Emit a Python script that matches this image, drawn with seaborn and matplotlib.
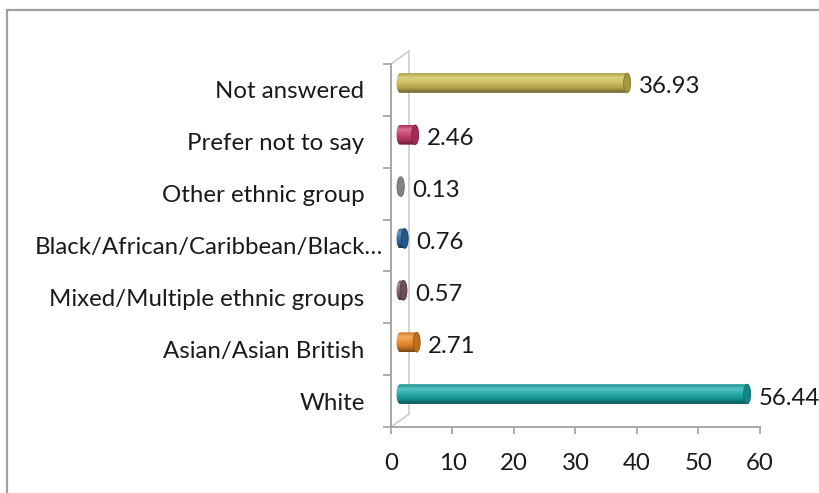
import numpy as np
import pandas as pd
import matplotlib
matplotlib.use("Agg")
import matplotlib.pyplot as plt
import seaborn as sns
from matplotlib import transforms
from matplotlib.patches import Ellipse, PathPatch, Rectangle
from matplotlib.path import Path
from matplotlib.lines import Line2D
from matplotlib.colors import LinearSegmentedColormap, to_rgb

# Survey responses by ethnic group (percent)
categories = [
    "Not answered",
    "Prefer not to say",
    "Other ethnic group",
    "Black/African/Caribbean/Black\u2026",
    "Mixed/Multiple ethnic groups",
    "Asian/Asian British",
    "White",
]
values = [36.93, 2.46, 0.13, 0.76, 0.57, 2.71, 56.44]
bar_colors = ["#CDBE52", "#C8386A", "#A4A4A4", "#2F6CA8", "#85636F", "#EE8A26", "#17A8A8"]
x_ticks = [0, 10, 20, 30, 40, 50, 60]

df = pd.DataFrame({"group": categories, "pct": values})

sns.set_theme(style="white")
plt.rcParams["font.family"] = ["Lato", "DejaVu Sans"]

W, H, DPI = 820, 493, 100
FS = 17.3
fig = plt.figure(figsize=(W / DPI, H / DPI), dpi=DPI)
fig.patch.set_facecolor("white")

# chart frame
fig.add_artist(Rectangle((7 / W, -0.1), 1.2, 1.1 - 10 / H, transform=fig.transFigure,
                         fill=False, edgecolor="#A0A0A0", lw=1.6))

ax = fig.add_axes([391 / W, 1 - 427 / H, (760 - 391) / W, (427 - 64) / H])
sns.barplot(data=df, x="pct", y="group", hue="group", palette=bar_colors,
            orient="h", width=0.38, saturation=1, legend=False, ax=ax)

# bars sit halfway into the depth of the plot
bar_shift = transforms.ScaledTranslation(9 / DPI, 7 / DPI, fig.dpi_scale_trans)
bar_trans = ax.transData + bar_shift
back_shift = transforms.ScaledTranslation(18 / DPI, 13 / DPI, fig.dpi_scale_trans)
back_trans = ax.transData + back_shift

px_per_unit = (760 - 391) / 60.0
cap_w = 7.0 / px_per_unit  # width of the cylinder end, in data units


def shade(c, f):
    r, g, b = to_rgb(c)
    if f >= 0:
        return (r + (1 - r) * f, g + (1 - g) * f, b + (1 - b) * f)
    return (r * (1 + f), g * (1 + f), b * (1 + f))


def capsule(x0, x1, yc, h, a):
    n = 30
    t1 = np.linspace(np.pi / 2, 3 * np.pi / 2, n)
    left = np.column_stack([x0 + a * np.cos(t1), yc - (h / 2) * np.sin(t1)])
    t2 = np.linspace(-np.pi / 2, np.pi / 2, n)
    right = np.column_stack([x1 + a * np.cos(t2), yc - (h / 2) * np.sin(t2)])
    verts = np.vstack([left, right, left[:1]])
    codes = [Path.MOVETO] + [Path.LINETO] * (len(verts) - 2) + [Path.CLOSEPOLY]
    return Path(verts, codes)


patches = list(ax.patches)
for p, c in zip(patches, bar_colors):
    x0, w = p.get_x(), p.get_width()
    y0, h = p.get_y(), p.get_height()
    yc = y0 + h / 2
    p.set_visible(False)
    body = PathPatch(capsule(x0, x0 + w, yc, h, cap_w / 2), transform=bar_trans,
                     facecolor="none", edgecolor="none")
    ax.add_patch(body)
    cmap = LinearSegmentedColormap.from_list(
        "cyl", [(0.0, shade(c, -0.15)), (0.22, shade(c, 0.28)), (0.45, shade(c, 0.1)),
                (0.75, shade(c, -0.15)), (1.0, shade(c, -0.5))])
    grad = np.linspace(0, 1, 64).reshape(-1, 1)
    im = ax.imshow(grad, cmap=cmap, aspect="auto", origin="upper",
                   extent=(x0 - cap_w, x0 + w + cap_w, yc + h / 2, yc - h / 2),
                   transform=bar_trans, zorder=3, interpolation="bilinear")
    im.set_clip_path(body)
    end = Ellipse((x0 + w, yc), cap_w, h, transform=bar_trans,
                  facecolor=shade(c, -0.2), edgecolor=shade(c, -0.35), lw=0.6, zorder=4)
    ax.add_patch(end)
    ax.annotate(f"{w:.2f}", xy=(x0 + w, yc), xycoords=bar_trans,
                xytext=(cap_w / 2 * px_per_unit + 8, -4), textcoords="offset pixels",
                ha="left", va="center", fontsize=FS, color="#1A1A1A", zorder=5)

ax.set_xlim(0, 60)
ax.set_ylim(6.5, -0.5)
ax.set_xticks(x_ticks)
ax.set_xticklabels([str(t) for t in x_ticks])
ax.set_yticks(range(len(categories)))
ax.set_yticklabels(categories)
ax.set_yticks(np.arange(-0.5, len(categories), 1), minor=True)
ax.set_xlabel("")
ax.set_ylabel("")

for s in ("top", "right"):
    ax.spines[s].set_visible(False)
for s in ("left", "bottom"):
    ax.spines[s].set_color("#A0A0A0")
    ax.spines[s].set_linewidth(1.3)

ax.tick_params(axis="x", direction="out", length=5, width=1.2, color="#A0A0A0",
               labelsize=FS, labelcolor="#1A1A1A", pad=14, bottom=True)
ax.tick_params(axis="y", which="major", length=0, labelsize=FS, labelcolor="#1A1A1A", pad=19)
ax.tick_params(axis="y", which="minor", direction="out", length=6, width=1.2,
               color="#A0A0A0", left=True)

# the truncated label runs up close to the axis
for lab in ax.get_yticklabels():
    if lab.get_text().endswith("\u2026"):
        lab.set_transform(lab.get_transform() +
                          transforms.ScaledTranslation(19 / DPI, 0, fig.dpi_scale_trans))

# back wall and depth edges
wall_kw = dict(color="#C8C8C8", lw=1.1, zorder=1, clip_on=False)
ax.add_line(Line2D([0, 0], [-0.5, 6.5], transform=back_trans, **wall_kw))
fig.canvas.draw()
for yy in (-0.5, 6.5):
    fx, fy = ax.transData.transform((0, yy))
    ax.add_line(Line2D([fx, fx + 18], [fy, fy + 13], transform=None, **wall_kw))

fig.savefig("out.png", dpi=DPI, facecolor="white")
